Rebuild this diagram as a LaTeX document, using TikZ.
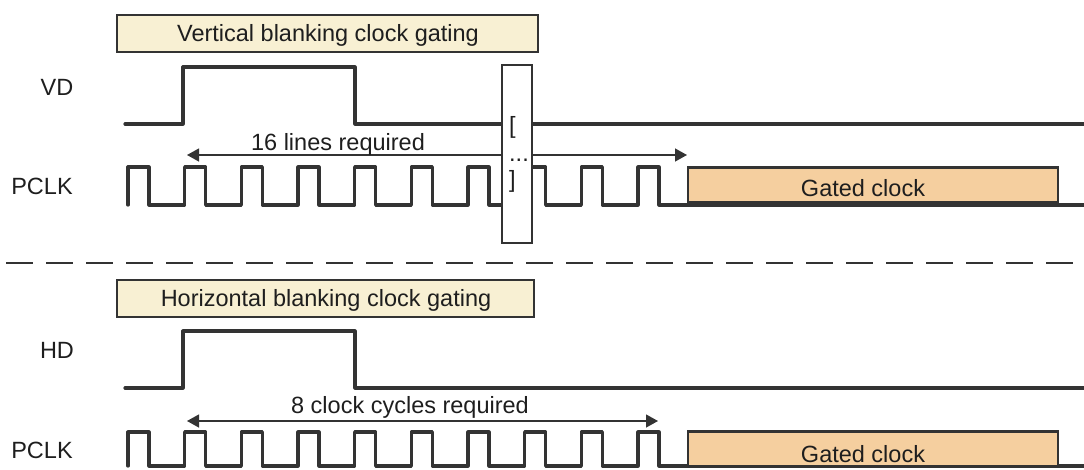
\documentclass[tikz,border=0pt]{standalone}
\usepackage{fontspec}
\setmainfont{Liberation Sans}
\usetikzlibrary{arrows.meta}
\definecolor{ink}{HTML}{333333}
\definecolor{txt}{HTML}{1E1E1E}
\definecolor{cream}{HTML}{F8F0D3}
\definecolor{gatefill}{HTML}{F5CF9F}
\begin{document}
\begin{tikzpicture}[x=1pt,y=-1pt,
  lbl/.style={font=\fontsize{23.5}{28}\selectfont, text=txt, inner sep=0pt, anchor=base},
  sig/.style={draw=ink, line width=3.2pt, line cap=round, line join=round},
  titlebox/.style={draw=ink, line width=2.4pt, fill=cream, inner sep=0pt, minimum height=37pt},
  gatebox/.style={draw=ink, line width=2.4pt, fill=gatefill, inner sep=0pt, minimum width=370pt, minimum height=35pt},
  breakbox/.style={draw=ink, line width=2pt, fill=white, inner sep=0pt, minimum width=30pt, minimum height=178pt},
  span/.style={draw=ink, line width=1.3pt, {Triangle[length=12pt,width=13pt]}-{Triangle[length=12pt,width=13pt]}},
  sep/.style={draw=ink, line width=2pt, dash pattern=on 27pt off 13pt}
]
\useasboundingbox (0,0) rectangle (1084,469);

% ---------- top: vertical blanking ----------
\node[titlebox, minimum width=421pt] (t1) at (327.5,33.5) {};
\node[lbl] (t1t) at (328,41) {Vertical blanking clock gating};

\node[lbl] (vd) at (57,95) {VD};
\node[lbl] (pclk1) at (42,194) {PCLK};

\draw[sig] (125,124) -- (183,124) -- (183,67) -- (355,67) -- (355,124) -- (1084,124);
\draw[sig] (128,205) \foreach \i in {0,...,9}{ -- ++(0,-38) -- ++(21,0) -- ++(0,38) -- ++(35.67,0) } -- (1084,205);

\coordinate (a1l) at (187,155);
\coordinate (a1r) at (687,155);
\draw[span] (a1l) -- (a1r);
\node[lbl] (a1t) at (338,150) {16 lines required};

\node[gatebox] (g1) at (873,185) {};
\node[lbl] (g1t) at (863,196) {Gated clock};

\node[breakbox] (br) at (517,154) {};
\node[lbl, anchor=base west] (br1) at (509,133) {[};
\node[lbl, anchor=base west] (br2) at (509,161) {...};
\node[lbl, anchor=base west] (br3) at (509,187) {]};

% ---------- separator ----------
\coordinate (s1) at (6,263);
\coordinate (s2) at (1080,263);
\draw[sep] (s1) -- (s2);

% ---------- bottom: horizontal blanking ----------
\node[titlebox, minimum width=417pt] (t2) at (325.5,298.5) {};
\node[lbl] (t2t) at (326,306) {Horizontal blanking clock gating};

\node[lbl] (hd) at (57,358) {HD};
\node[lbl] (pclk2) at (42,458) {PCLK};

\draw[sig] (125,388) -- (183,388) -- (183,331) -- (355,331) -- (355,388) -- (1084,388);
\draw[sig] (128,466) \foreach \i in {0,...,9}{ -- ++(0,-34) -- ++(21,0) -- ++(0,34) -- ++(35.67,0) } -- (1084,466);

\coordinate (a2l) at (187,421);
\coordinate (a2r) at (658,421);
\draw[span] (a2l) -- (a2r);
\node[lbl] (a2t) at (410,413) {8 clock cycles required};

\node[gatebox] (g2) at (873,449) {};
\node[lbl] (g2t) at (863,462) {Gated clock};
\end{tikzpicture}
\end{document}
